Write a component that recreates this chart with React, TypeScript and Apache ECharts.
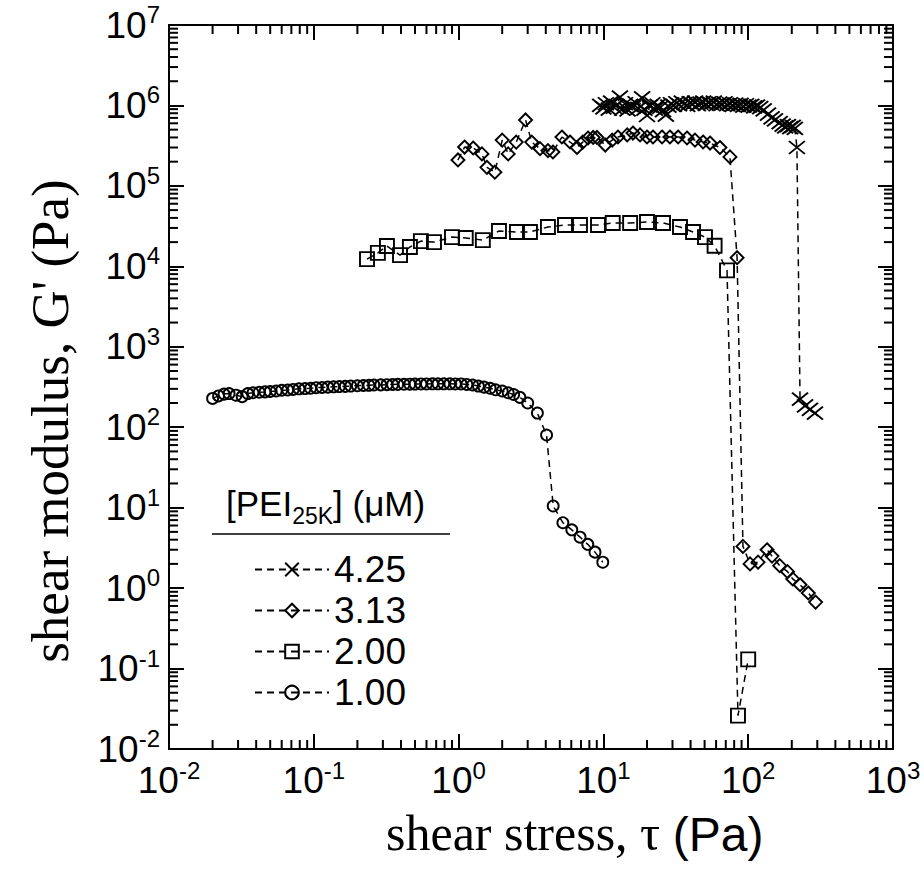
import React, { useEffect, useRef } from "react";
import * as echarts from "echarts";

// ---------- data ----------
const xTickExponents = [-2, -1, 0, 1, 2, 3];
const yTickExponents = [-2, -1, 0, 1, 2, 3, 4, 5, 6, 7];
const legendNames = ["4.25", "3.13", "2.00", "1.00"];

const stress425 = [9.5, 10.0, 10.4, 10.9, 11.3, 11.8, 12.3, 13.0, 13.5, 14.1, 14.7, 15.3, 16.0, 16.7, 17.4, 18.5, 19.2, 20.0, 20.9, 21.8, 22.7, 23.7, 24.7, 25.8, 27.0, 28.1, 29.3, 30.6, 31.9, 33.3, 34.8, 36.3, 37.9, 39.5, 41.2, 43.0, 44.9, 46.8, 48.9, 51.0, 53.2, 55.5, 57.9, 60.4, 63.1, 65.8, 68.7, 71.6, 74.8, 78.0, 81.4, 85.0, 88.6, 92.5, 96.5, 100.7, 105, 110, 115, 121, 128, 137, 145, 153, 165, 173, 180, 188, 195, 203, 210, 217, 228, 247, 267, 289];
const modulus425 = [1.0e6, 9.3e5, 1.05e6, 9.0e5, 1.1e6, 9.5e5, 1.0e6, 1.27e6, 9.0e5, 1.05e6, 8.8e5, 1.0e6, 9.6e5, 1.08e6, 9.2e5, 1.24e6, 9.0e5, 7.5e5, 9.8e5, 1.05e6, 9.0e5, 1.0e6, 9.5e5, 8.6e5, 7.6e5, 9.8e5, 1.05e6, 1.0e6, 1.08e6, 1.02e6, 1.1e6, 1.05e6, 1.0e6, 1.08e6, 1.04e6, 1.1e6, 1.02e6, 1.07e6, 1.1e6, 1.03e6, 1.08e6, 1.05e6, 1.1e6, 1.02e6, 1.07e6, 1.04e6, 1.08e6, 1.02e6, 1.05e6, 1.0e6, 1.04e6, 1.0e6, 1.03e6, 9.8e5, 1.02e6, 9.8e5, 1.0e6, 9.6e5, 9.8e5, 9.4e5, 8.8e5, 7.8e5, 7.0e5, 6.6e5, 6.1e5, 5.7e5, 5.4e5, 5.6e5, 5.3e5, 5.5e5, 5.2e5, 3.0e5, 224, 184, 167, 150];

const stress313 = [0.99, 1.1, 1.26, 1.45, 1.57, 1.78, 2.0, 2.2, 2.5, 2.9, 3.2, 3.65, 4.14, 4.48, 5.17, 5.88, 6.57, 7.2, 7.83, 8.5, 9.03, 10.3, 11.5, 12.6, 14.6, 16.0, 17.9, 20.0, 22.0, 25.4, 28.8, 32.8, 37.8, 42.9, 48.8, 54.5, 63.8, 74.8, 83.8, 92, 103, 117, 135, 146, 165, 187, 203, 228, 260, 292];
const modulus313 = [210000, 304000, 296000, 250000, 170000, 148000, 371000, 250000, 350000, 660000, 350000, 290000, 275000, 264000, 405000, 351000, 300000, 350000, 394000, 400000, 400000, 322000, 371000, 405000, 430000, 454000, 430000, 405000, 405000, 405000, 405000, 405000, 394000, 371000, 351000, 341000, 300000, 229000, 12800, 3.3, 2.0, 2.1, 3.0, 2.5, 1.9, 1.6, 1.3, 1.1, 0.87, 0.67];

const stress200 = [0.233, 0.277, 0.32, 0.394, 0.461, 0.549, 0.676, 0.9, 1.12, 1.47, 1.9, 2.53, 3.11, 4.14, 5.43, 6.89, 9.18, 11.6, 15.3, 20.0, 25.8, 33.8, 41.6, 50.3, 58.6, 71.4, 85, 100];
const modulus200 = [12300, 14700, 17900, 13800, 17400, 20600, 20000, 23100, 22500, 21200, 27500, 26700, 26700, 30800, 32600, 32600, 32600, 34600, 34600, 35600, 34600, 30800, 26700, 23100, 18000, 8900, 0.026, 0.13];

const stress100 = [0.020, 0.022, 0.024, 0.026, 0.029, 0.032, 0.035, 0.038, 0.042, 0.046, 0.050, 0.055, 0.060, 0.066, 0.072, 0.079, 0.087, 0.095, 0.104, 0.114, 0.125, 0.137, 0.150, 0.165, 0.18, 0.20, 0.22, 0.24, 0.26, 0.29, 0.32, 0.35, 0.38, 0.42, 0.46, 0.50, 0.55, 0.60, 0.66, 0.72, 0.79, 0.87, 0.95, 1.04, 1.14, 1.25, 1.37, 1.50, 1.65, 1.80, 2.0, 2.2, 2.4, 2.65, 3.0, 3.5, 4.05, 4.5, 5.25, 6.05, 6.9, 7.8, 8.75, 9.9];
const modulus100 = [228, 245, 258, 262, 250, 240, 262, 268, 272, 275, 278, 282, 288, 290, 295, 300, 302, 305, 310, 312, 315, 318, 320, 322, 325, 328, 330, 332, 335, 336, 338, 340, 341, 342, 343, 344, 345, 345, 346, 346, 346, 346, 345, 345, 340, 335, 325, 315, 305, 292, 282, 268, 255, 235, 200, 150, 80, 10.5, 6.5, 5.3, 4.3, 3.5, 2.8, 2.1];

// ---------- styling ----------
const X_MIN = 0.01, X_MAX = 1000, Y_MIN = 0.01, Y_MAX = 1e7;
const SANS = "'Liberation Sans', Arial, sans-serif";
const SERIF = "'Liberation Serif', 'Times New Roman', serif";
const BLACK = "#000";

const zip = (xs: number[], ys: number[]) => {
  const n = Math.min(xs.length, ys.length);
  const out: number[][] = [];
  for (let i = 0; i < n; i++) out.push([xs[i], ys[i]]);
  return out;
};

const minorTicks = (lo: number, hi: number) => {
  const out: number[] = [];
  for (let e = lo; e < hi; e++) for (let k = 2; k <= 9; k++) out.push(k * Math.pow(10, e));
  return out;
};

const expLabel = (v: number) => {
  const e = Math.round(Math.log10(v));
  return `{b|10}{s|${e}}`;
};

const labelRich = {
  b: { fontSize: 37, lineHeight: 37, fontFamily: SANS, color: BLACK, verticalAlign: "bottom" },
  s: { fontSize: 24, lineHeight: 24, fontFamily: SANS, color: BLACK, verticalAlign: "bottom", padding: [0, 0, 17, 0] },
};

const lineStyle = { type: [7, 5], width: 1.5, color: BLACK };
const itemStyle = { color: "rgba(0,0,0,0)", borderColor: BLACK, borderWidth: 1.9 };

export default function App() {
  const ref = useRef<HTMLDivElement>(null);
  useEffect(() => {
    if (!ref.current) return;
    const chart = echarts.init(ref.current, null, { renderer: "svg" });
    const axisCommon = {
      type: "log",
      logBase: 10,
      axisLine: { show: true, onZero: false, lineStyle: { color: BLACK, width: 2 } },
      axisTick: { show: true, inside: true, length: 15, lineStyle: { color: BLACK, width: 2 } },
      splitLine: { show: false },
      minorTick: { show: false },
    };
    const tickSeries = (vals: number[], horizontal: boolean) => ({
      type: "custom",
      silent: true,
      clip: false,
      z: 10,
      data: vals.map((v) => (horizontal ? [v, Y_MIN] : [X_MIN, v])),
      renderItem: (_p: any, api: any) => {
        const v = api.value(horizontal ? 0 : 1);
        const L = 9;
        const st = { stroke: BLACK, lineWidth: 2 };
        if (horizontal) {
          const b = api.coord([v, Y_MIN]);
          const t = api.coord([v, Y_MAX]);
          return {
            type: "group",
            children: [
              { type: "line", shape: { x1: b[0], y1: b[1], x2: b[0], y2: b[1] - L }, style: st },
              { type: "line", shape: { x1: t[0], y1: t[1], x2: t[0], y2: t[1] + L }, style: st },
            ],
          };
        }
        const l = api.coord([X_MIN, v]);
        const r = api.coord([X_MAX, v]);
        return {
          type: "group",
          children: [
            { type: "line", shape: { x1: l[0], y1: l[1], x2: l[0] + L, y2: l[1] }, style: st },
            { type: "line", shape: { x1: r[0], y1: r[1], x2: r[0] - L, y2: r[1] }, style: st },
          ],
        };
      },
    });

    const option: any = {
      animation: false,
      backgroundColor: "#fff",
      grid: { left: 169, right: 31, top: 25, bottom: 120, containLabel: false },
      xAxis: [
        {
          ...axisCommon,
          position: "bottom",
          min: X_MIN,
          max: X_MAX,
          splitNumber: xTickExponents.length - 1,
          axisLabel: { show: true, margin: 13, formatter: expLabel, rich: labelRich },
        },
        { ...axisCommon, position: "top", min: X_MIN, max: X_MAX, splitNumber: xTickExponents.length - 1, axisLabel: { show: false } },
      ],
      yAxis: [
        {
          ...axisCommon,
          position: "left",
          min: Y_MIN,
          max: Y_MAX,
          splitNumber: yTickExponents.length - 1,
          axisLabel: { show: true, margin: 9, formatter: expLabel, rich: labelRich },
        },
        { ...axisCommon, position: "right", min: Y_MIN, max: Y_MAX, splitNumber: yTickExponents.length - 1, axisLabel: { show: false } },
      ],
      legend: {
        orient: "vertical",
        left: 249,
        top: 546,
        itemWidth: 74,
        itemHeight: 17,
        itemGap: 4,
        data: legendNames,
        textStyle: { fontSize: 37, lineHeight: 37, fontFamily: SANS, color: BLACK },
        selectedMode: false,
      },
      graphic: [
        {
          type: "text",
          left: 226,
          top: 486,
          style: {
            text: "{a|[PEI}{s|25K}{a|] (μM)}",
            rich: {
              a: { fontSize: 35, fontFamily: SANS, fill: BLACK, verticalAlign: "top" },
              s: { fontSize: 23, fontFamily: SANS, fill: BLACK, verticalAlign: "top", padding: [18, 0, 0, 0] },
            },
          },
        },
        { type: "line", shape: { x1: 212, y1: 534, x2: 450, y2: 534 }, style: { stroke: BLACK, lineWidth: 1.5 } },
        {
          type: "text",
          left: 386,
          top: 808,
          style: {
            text: "{a|shear stress, τ }{b|(Pa)}",
            rich: {
              a: { fontSize: 50, lineHeight: 48, fontFamily: SERIF, fill: BLACK, verticalAlign: "bottom" },
              b: { fontSize: 48, lineHeight: 48, fontFamily: SANS, fill: BLACK, verticalAlign: "bottom" },
            },
          },
        },
        {
          type: "text",
          x: 50,
          y: 421,
          rotation: Math.PI / 2,
          style: {
            text: "shear modulus, G' (Pa)",
            fontSize: 53,
            fontFamily: SERIF,
            fill: BLACK,
            align: "center",
            verticalAlign: "middle",
          },
        },
      ],
      series: [
        {
          type: "line",
          name: "4.25",
          data: zip(stress425, modulus425),
          symbol: "path://M0,0L10,10M10,0L0,10",
          symbolSize: [16, 13],
          lineStyle,
          itemStyle,
        },
        { type: "line", name: "3.13", data: zip(stress313, modulus313), symbol: "diamond", symbolSize: 13, lineStyle, itemStyle },
        { type: "line", name: "2.00", data: zip(stress200, modulus200), symbol: "rect", symbolSize: 14, lineStyle, itemStyle },
        { type: "line", name: "1.00", data: zip(stress100, modulus100), symbol: "circle", symbolSize: 11, lineStyle, itemStyle },
        tickSeries(minorTicks(-2, 3), true),
        tickSeries(minorTicks(-2, 7), false),
      ],
    };
    chart.setOption(option);
    return () => chart.dispose();
  }, []);
  return <div ref={ref} style={{ position: "fixed", left: 0, top: 0, width: 924, height: 869, background: "#fff" }} />;
}
